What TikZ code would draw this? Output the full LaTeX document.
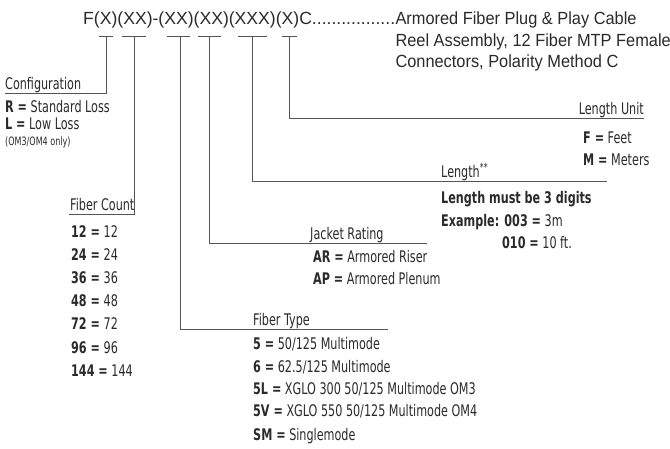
\documentclass[tikz,border=0pt]{standalone}
\usepackage{fontspec}
\setmainfont{Liberation Sans}
\newfontfamily\condfont{DejaVu Sans}[FakeStretch=0.7]
\newfontfamily\titlefont{Liberation Sans}[FakeStretch=0.93]
\definecolor{inkgray}{HTML}{2A2A2A}
\definecolor{linegray}{HTML}{555555}
\tikzset{
  hdr/.style={anchor=base west,inner sep=0pt,text=inkgray,font=\condfont\fontsize{16}{19}\selectfont},
  item/.style={anchor=base west,inner sep=0pt,text=inkgray,font=\condfont\fontsize{16}{19}\selectfont},
  ttl/.style={anchor=base west,inner sep=0pt,text=inkgray,font=\titlefont\fontsize{17.6}{21.5}\selectfont},
  lead/.style={draw=linegray,line width=0.8pt},
}
\begin{document}
\begin{tikzpicture}[x=1pt,y=-1pt]
        \useasboundingbox (0,0) rectangle (670,449);
        % part number and title
        \node[ttl,font=\fontsize{17.6}{21.5}\selectfont] (code) at (83,25) {F(X)(XX)-(XX)(XX)(XXX)(X)C.................};
        \node[ttl] (title1) at (code.base east) {Armored Fiber Plug \& Play Cable};
        \node[ttl] (title2) at ([yshift=-21.5pt]title1.base west) {Reel Assembly, 12 Fiber MTP Female};
        \node[ttl] (title3) at ([yshift=-21.5pt]title2.base west) {Connectors, Polarity Method C};
        % ticks under the code groups
        \coordinate (cfgA) at (99,36);   \coordinate (cfgB) at (113,36);  \coordinate (cfgT) at (106,36);
        \coordinate (cntA) at (122,36);  \coordinate (cntB) at (146,36);  \coordinate (cntT) at (134,36);
        \coordinate (typA) at (167,36);  \coordinate (typB) at (190,36);  \coordinate (typT) at (180,36);
        \coordinate (jktA) at (198,36);  \coordinate (jktB) at (221,36);  \coordinate (jktT) at (209,36);
        \coordinate (lenA) at (238,36);  \coordinate (lenB) at (267,36);  \coordinate (lenT) at (252,36);
        \coordinate (untA) at (282,36);  \coordinate (untB) at (297,36);  \coordinate (untT) at (289,36);
        % ends of the leader lines
        \coordinate (cfgE) at (5,93);
        \coordinate (cntE) at (69,214);
        \coordinate (typE) at (388,329);
        \coordinate (jktE) at (427,243);
        \coordinate (lenE) at (607,181);
        \coordinate (untE) at (644,118);
        \foreach \f in {cfg,cnt,typ,jkt,len,unt}{
            \draw[lead] (\f A) -- (\f B);
            \draw[lead] (\f T) |- (\f E);
        }
        % configuration
        \node[hdr] (cfg) at (5,90) {Configuration};
        \node[item] (cfgR) at (5,113) {\textbf{R =} Standard Loss};
        \node[item] (cfgL) at (5,130) {\textbf{L =} Low Loss};
        \node[item,font=\condfont\fontsize{11.5}{13}\selectfont] (cfgN) at (5,146) {(OM3/OM4 only)};
        % fiber count
        \node[hdr] (cnt) at (70,211) {Fiber Count};
        \foreach \n [count=\i] in {12,24,36,48,72,96,144}
            \node[item] (cnt\i) at (71,{214+23.2*\i}) {\textbf{\n\ =} \n};
        % jacket rating
        \node[hdr] (jkt) at (310,240) {Jacket Rating};
        \node[item] (jktR) at (313,263) {\textbf{AR =} Armored Riser};
        \node[item] (jktP) at (313,285) {\textbf{AP =} Armored Plenum};
        % fiber type
        \node[hdr] (typ) at (253,326) {Fiber Type};
        \node[item] (typ1) at (253,349) {\textbf{5 =} 50/125 Multimode};
        \node[item] (typ2) at (253,372) {\textbf{6 =} 62.5/125 Multimode};
        \node[item] (typ3) at (253,395) {\textbf{5L =} XGLO 300 50/125 Multimode OM3};
        \node[item] (typ4) at (253,417) {\textbf{5V =} XGLO 550 50/125 Multimode OM4};
        \node[item] (typ5) at (253,440) {\textbf{SM =} Singlemode};
        % length
        \node[hdr] (len) at (441,178) {Length\textsuperscript{**}};
        \node[item] (len1) at (441,204) {\textbf{Length must be 3 digits}};
        \node[item] (len2) at (441,227) {\textbf{Example: 003 =} 3m};
        \node[item] (len3) at (502,249) {\textbf{010 =} 10 ft.};
        % length unit
        \node[hdr,anchor=base east] (unt) at (644,115) {Length Unit};
        \node[item] (untF) at (583,144) {\textbf{F =} Feet};
        \node[item] (untM) at (583,166) {\textbf{M =} Meters};
\end{tikzpicture}
\end{document}
